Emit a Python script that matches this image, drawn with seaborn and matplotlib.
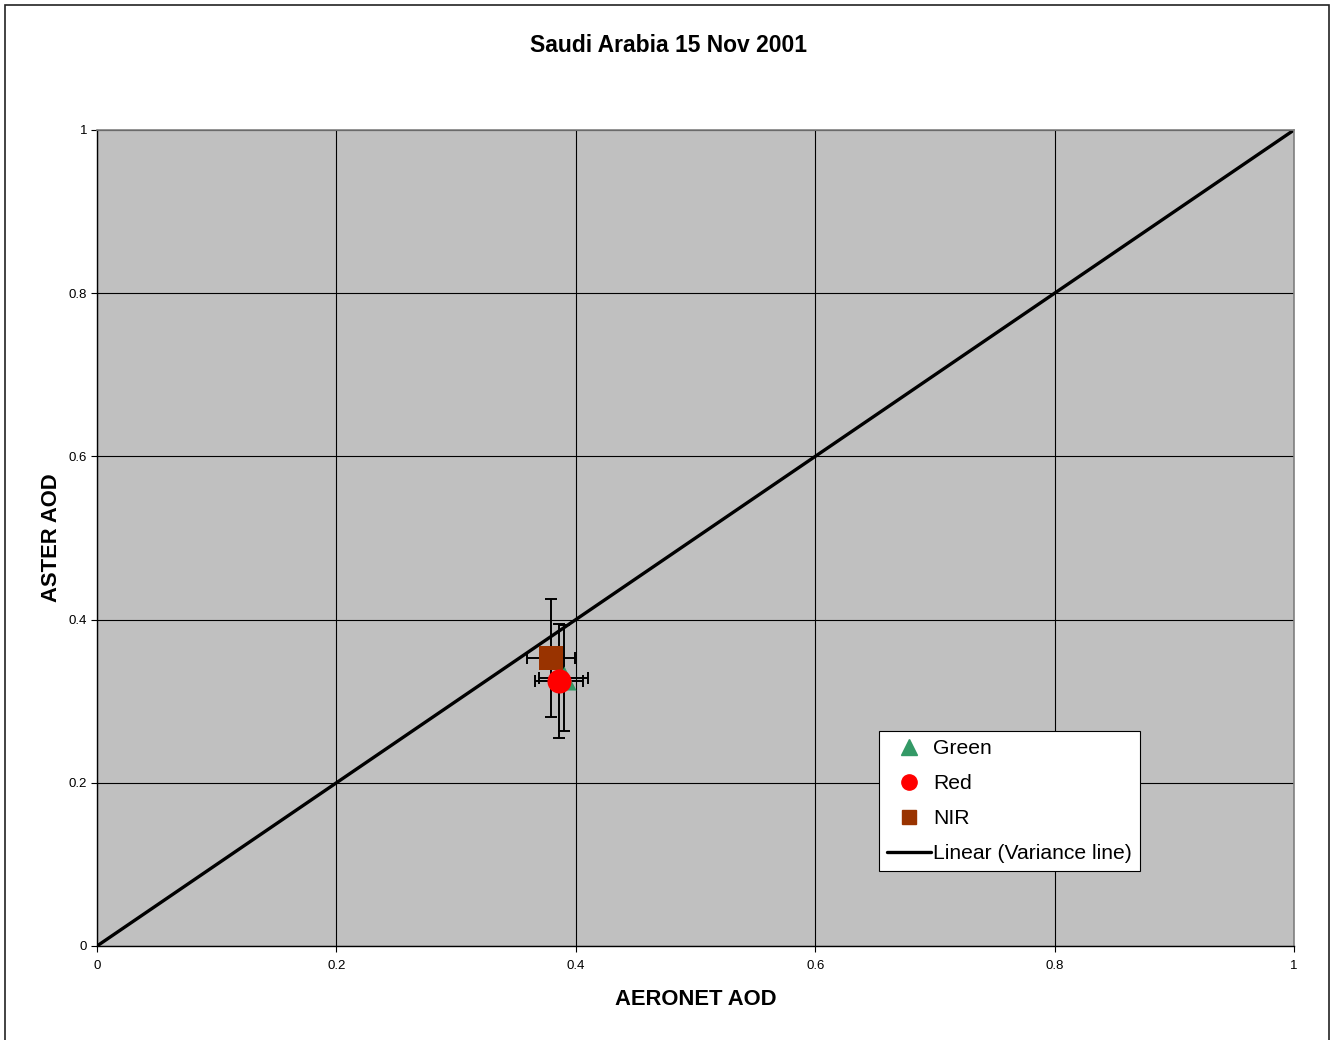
import matplotlib
matplotlib.use("Agg")
import matplotlib.pyplot as plt
from matplotlib.lines import Line2D
from matplotlib.patches import Rectangle
from matplotlib.ticker import FuncFormatter, MultipleLocator
import numpy as np
import pandas as pd
import seaborn as sns

# Band retrievals: AERONET AOD vs ASTER AOD with uncertainty
bands = ["Green", "NIR", "Red"]
aeronet_aod = [0.390, 0.379, 0.386]
aster_aod = [0.328, 0.353, 0.325]
aeronet_err = [0.0205, 0.020, 0.020]
aster_err = [0.065, 0.072, 0.070]

# 1:1 variance line
line_x = [0.0, 1.0]
line_y = [0.0, 1.0]

band_colors = {"Green": "#339966", "Red": "#FF0000", "NIR": "#993300"}
band_markers = {"Green": "^", "Red": "o", "NIR": "s"}
legend_order = ["Green", "Red", "NIR"]

sns.set_theme(style="white")
plt.rcParams["font.family"] = ["Liberation Sans", "DejaVu Sans"]
plt.rcParams["text.color"] = "black"
plt.rcParams["axes.labelcolor"] = "black"
plt.rcParams["xtick.color"] = "black"
plt.rcParams["ytick.color"] = "black"

fig = plt.figure(figsize=(13.3, 10.4), dpi=100)
W, H = 1330, 1040
ax = fig.add_axes([97 / W, 1 - 946 / H, (1294 - 97) / W, (946 - 130) / H])
ax.set_facecolor("#C0C0C0")

# chart frame around the whole figure
fig.patches.append(Rectangle((5.5 / W, -0.01), (1329 - 5.5) / W, 1 - 4.5 / H + 0.01,
                             transform=fig.transFigure, fill=False,
                             edgecolor="#222222", linewidth=1.2, zorder=0))

df = pd.DataFrame({"band": bands, "aeronet": aeronet_aod, "aster": aster_aod,
                   "xerr": aeronet_err, "yerr": aster_err})
lines = pd.DataFrame({"x": line_x, "y": line_y})

ax.grid(True, color="black", linewidth=0.8)
ax.set_axisbelow(True)

sns.lineplot(data=lines, x="x", y="y", ax=ax, color="black", linewidth=2.4,
             zorder=2, legend=False)

for _, row in df.iterrows():
    ax.errorbar(row["aeronet"], row["aster"], xerr=row["xerr"], yerr=row["yerr"],
                fmt="none", ecolor="black", elinewidth=1.4, capsize=4.5,
                capthick=1.4, zorder=3)

for i, band in enumerate(bands):
    sub = df[df["band"] == band]
    sns.scatterplot(data=sub, x="aeronet", y="aster", ax=ax,
                    marker=band_markers[band], color=band_colors[band],
                    s=300 if band != "NIR" else 280, edgecolor=band_colors[band],
                    linewidth=0, zorder=4 + i, legend=False)

ax.set_xlim(0, 1)
ax.set_ylim(0, 1)
ax.xaxis.set_major_locator(MultipleLocator(0.2))
ax.yaxis.set_major_locator(MultipleLocator(0.2))
fmt = FuncFormatter(lambda v, p: f"{v:g}")
ax.xaxis.set_major_formatter(fmt)
ax.yaxis.set_major_formatter(fmt)
ax.tick_params(axis="both", labelsize=9.5, length=4, width=0.8, color="black",
               direction="out", bottom=True, left=True)
ax.tick_params(axis="y", pad=3)
ax.tick_params(axis="x", pad=6)

for side in ["left", "bottom"]:
    ax.spines[side].set_color("black")
    ax.spines[side].set_linewidth(1.0)
for side in ["top", "right"]:
    ax.spines[side].set_color("#808080")
    ax.spines[side].set_linewidth(1.2)

ax.set_xlabel("AERONET AOD", fontsize=15.8, fontweight="bold", labelpad=12)
ax.set_ylabel("ASTER AOD", fontsize=15.8, fontweight="bold", labelpad=5)
fig.text(668 / W, 1 - 46 / H, "Saudi Arabia 15 Nov 2001", ha="center", va="center",
         fontsize=16.5, fontweight="bold")

handles = [Line2D([], [], linestyle="none", marker=band_markers[b],
                  color=band_colors[b], markersize=11 if b != "NIR" else 10)
           for b in legend_order]
handles.append(Line2D([], [], color="black", linewidth=2.4))
leg = ax.legend(handles, legend_order + ["Linear (Variance line)"],
                loc="upper left", bbox_to_anchor=((879 - 97) / 1197, (946 - 731) / 816),
                borderaxespad=0, fontsize=15.2, frameon=True, fancybox=False,
                framealpha=1, edgecolor="black", handlelength=2.05,
                handletextpad=0.12, labelspacing=0.75, borderpad=0.4)
leg.get_frame().set_linewidth(0.8)

fig.savefig("out.png", dpi=100)
